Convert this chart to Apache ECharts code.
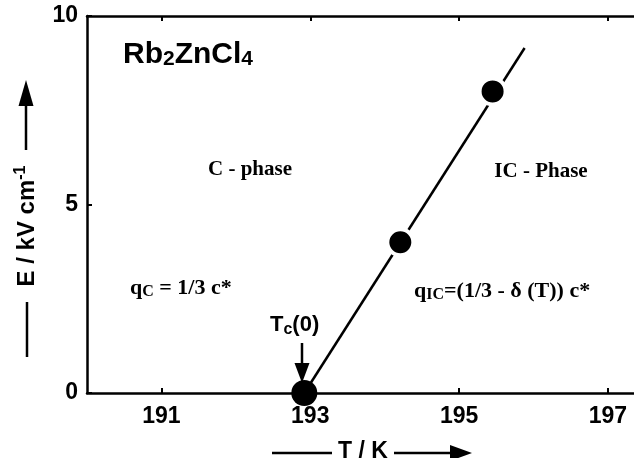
<!DOCTYPE html>
<html>
<head>
<meta charset="utf-8">
<script src="https://cdn.jsdelivr.net/npm/echarts@6/dist/echarts.min.js"></script>
<style>html,body{margin:0;padding:0;background:#fff;}#c{width:634px;height:458px;}</style>
</head>
<body>
<div id="c"></div>
<script>
// Data
const pointT = [192.92, 194.21, 195.45];
const pointE = [0, 4, 8];
const lineT = [192.92, 195.88];
const lineE = [0, 9.15];
const xTicks = [191, 193, 195, 197];
const yTicks = [0, 5, 10];

const chart = echarts.init(document.getElementById('c'));
const sans = 'Liberation Sans, Arial, sans-serif';
const serif = 'Liberation Serif, Times New Roman, serif';

const points = pointT.map((t, i) => {
  const item = { value: [t, pointE[i]] };
  if (i === 0) item.itemStyle = { borderWidth: 0 };
  return item;
});

chart.setOption({
  animation: false,
  backgroundColor: '#fff',
  grid: { left: 87, top: 16, right: 0, bottom: 65 },
  xAxis: [{
    type: 'value', min: 190, max: 197.35, position: 'bottom',
    axisLine: { lineStyle: { color: '#000', width: 2.5 } },
    axisTick: { inside: true, length: 5, customValues: xTicks, lineStyle: { color: '#000', width: 2 } },
    axisLabel: { customValues: xTicks, color: '#000', fontFamily: sans, fontWeight: 'bold', fontSize: 23, margin: 12 },
    splitLine: { show: false }
  }, {
    type: 'value', min: 190, max: 197.35, position: 'top',
    axisLine: { lineStyle: { color: '#000', width: 2.5 } },
    axisTick: { inside: true, length: 5, customValues: xTicks, lineStyle: { color: '#000', width: 2 } },
    axisLabel: { show: false },
    splitLine: { show: false }
  }],
  yAxis: {
    type: 'value', min: 0, max: 10, interval: 5,
    axisLine: { show: true, lineStyle: { color: '#000', width: 2.5 } },
    axisTick: { show: true, inside: true, length: 5, lineStyle: { color: '#000', width: 2 } },
    axisLabel: { color: '#000', fontFamily: sans, fontWeight: 'bold', fontSize: 23, margin: 9,
      formatter: v => yTicks.includes(v) ? String(v) : '' },
    splitLine: { show: false }
  },
  series: [{
    type: 'line',
    data: lineT.map((t, i) => [t, lineE[i]]),
    showSymbol: false, symbol: 'none',
    lineStyle: { color: '#000', width: 2.5 },
    clip: false, z: 2
  }, {
    type: 'scatter',
    data: points,
    symbol: 'circle', symbolSize: 26,
    itemStyle: { color: '#000', borderColor: '#fff', borderWidth: 4, opacity: 1 },
    clip: false, z: 3
  }],
  graphic: [
    { type: 'text', left: 123, top: 40, style: {
      text: '{m|Rb}{s|2}{m|ZnCl}{s|4}', rich: {
        m: { fontFamily: sans, fontWeight: 'bold', fontSize: 30, fill: '#000', verticalAlign: 'bottom' },
        s: { fontFamily: sans, fontWeight: 'bold', fontSize: 21, fill: '#000', padding: [11, 0, 0, 0], verticalAlign: 'bottom' }
      } } },
    { type: 'text', x: 250, y: 170, style: { text: 'C - phase', fontFamily: serif, fontWeight: 'bold', fontSize: 21, fill: '#000', align: 'center', verticalAlign: 'middle' } },
    { type: 'text', x: 541, y: 172, style: { text: 'IC - Phase', fontFamily: serif, fontWeight: 'bold', fontSize: 21, fill: '#000', align: 'center', verticalAlign: 'middle' } },
    { type: 'text', x: 130, y: 288, style: { text: '{m|q}{s|C}{m| = 1/3 c*}', verticalAlign: 'middle', rich: {
      m: { fontFamily: serif, fontWeight: 'bold', fontSize: 22, fill: '#000' },
      s: { fontFamily: serif, fontWeight: 'bold', fontSize: 16, fill: '#000', padding: [8, 0, 0, 0] }
    } } },
    { type: 'text', x: 414, y: 291, style: { text: '{m|q}{s|IC}{m|=(1/3 - δ (T)) c*}', verticalAlign: 'middle', rich: {
      m: { fontFamily: serif, fontWeight: 'bold', fontSize: 22, fill: '#000' },
      s: { fontFamily: serif, fontWeight: 'bold', fontSize: 16, fill: '#000', padding: [8, 0, 0, 0] }
    } } },
    { type: 'text', x: 270, y: 325, style: { text: '{m|T}{s|c}{m|(0)}', verticalAlign: 'middle', rich: {
      m: { fontFamily: sans, fontWeight: 'bold', fontSize: 22, fill: '#000' },
      s: { fontFamily: sans, fontWeight: 'bold', fontSize: 16, fill: '#000', padding: [9, 0, 0, 0] }
    } } },
    // Tc arrow
    { type: 'line', shape: { x1: 302, y1: 343, x2: 302, y2: 366 }, style: { stroke: '#000', lineWidth: 2.5 } },
    { type: 'polygon', shape: { points: [[294.5, 363], [309.5, 363], [302, 383]] }, style: { fill: '#000' } },
    // Y axis title
    { type: 'line', shape: { x1: 27, y1: 302, x2: 27, y2: 357 }, style: { stroke: '#000', lineWidth: 2.5 } },
    { type: 'line', shape: { x1: 26, y1: 100, x2: 26, y2: 150 }, style: { stroke: '#000', lineWidth: 2.5 } },
    { type: 'polygon', shape: { points: [[18.5, 106], [33.5, 106], [26, 80]] }, style: { fill: '#000' } },
    { type: 'text', x: 27, y: 226, rotation: Math.PI / 2, style: {
      text: '{m|E / kV cm}{s|-1}', align: 'center', verticalAlign: 'middle', rich: {
        m: { fontFamily: sans, fontWeight: 'bold', fontSize: 24, fill: '#000' },
        s: { fontFamily: sans, fontWeight: 'bold', fontSize: 16, fill: '#000', padding: [0, 0, 12, 0] }
      } } },
    // X axis title
    { type: 'line', shape: { x1: 272, y1: 453, x2: 332, y2: 453 }, style: { stroke: '#000', lineWidth: 2.5 } },
    { type: 'text', x: 363, y: 452, style: { text: 'T / K', fontFamily: sans, fontWeight: 'bold', fontSize: 23, fill: '#000', align: 'center', verticalAlign: 'middle' } },
    { type: 'line', shape: { x1: 394, y1: 453, x2: 455, y2: 453 }, style: { stroke: '#000', lineWidth: 2.5 } },
    { type: 'polygon', shape: { points: [[450, 445], [450, 461], [472, 453]] }, style: { fill: '#000' } }
  ]
});
</script>
</body>
</html>
